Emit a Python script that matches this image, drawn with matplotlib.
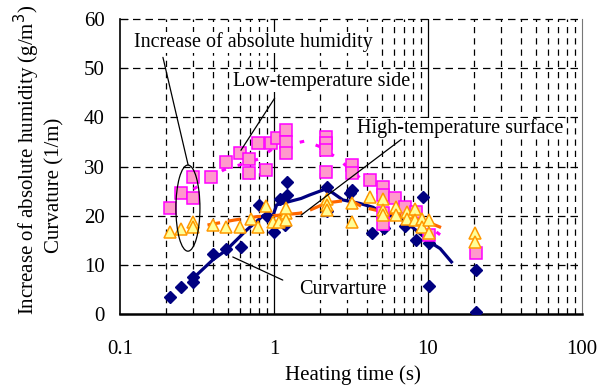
import matplotlib.pyplot as plt
from matplotlib.patches import Ellipse

# curvature (navy diamonds)
curv_x = [0.21, 0.25, 0.30, 0.30, 0.40, 0.49, 0.61, 0.80, 0.90, 1.0, 1.18, 1.10, 1.21, 1.22,
          2.2, 2.2, 3.2, 3.1, 4.3, 5.1, 5.2, 7.1, 8.4, 9.3, 10.1, 10.1, 20.5, 20.5]
curv_y = [3.5, 5.5, 7.5, 6.6, 12.3, 13.3, 13.7, 22.1, 20.0, 16.6, 18.1, 23.3, 26.9, 24.2,
          25.9, 21.0, 25.2, 24.6, 16.5, 17.7, 17.4, 17.9, 15.0, 23.8, 14.4, 5.7, 8.9, 0.5]

# low-temperature side (pink squares)
low_x = [0.21, 0.25, 0.30, 0.30, 0.39, 0.49, 0.60, 0.69, 0.69, 0.79, 0.89, 0.96, 1.05,
         1.19, 1.19, 1.19, 2.18, 2.18, 2.18, 2.18, 3.2, 3.2, 4.2, 5.1, 5.1, 6.1, 5.1,
         5.1, 7.1, 8.4, 10.2, 20.5]
low_y = [21.5, 24.7, 23.6, 27.8, 27.8, 31.0, 32.7, 31.6, 28.6, 34.7, 29.2, 34.7, 35.7,
         37.4, 35.0, 32.8, 36.1, 34.7, 33.3, 28.8, 30.3, 28.6, 27.2, 25.9, 24.2, 23.5, 20.5,
         18.4, 21.8, 20.8, 16.1, 12.5]

# high-temperature surface (yellow triangles)
high_x = [0.21, 0.25, 0.30, 0.30, 0.40, 0.49, 0.60, 0.71, 0.79, 0.89, 0.99, 1.07, 1.19,
          1.19, 1.19, 2.2, 2.2, 2.2, 3.2, 3.2, 4.2, 5.1, 5.1, 5.1, 6.2, 6.2, 7.3, 7.3,
          8.2, 8.2, 9.1, 9.1, 10.1, 10.1, 20.1, 20.1]
high_y = [16.7, 17.2, 18.8, 17.6, 18.1, 17.7, 17.7, 19.4, 17.6, 22.0, 18.8, 18.8, 20.5,
          19.2, 21.5, 23.3, 22.2, 21.1, 18.8, 22.6, 23.7, 23.3, 21.1, 20.1, 21.8, 20.1, 20.8, 19.4,
          21.3, 19.1, 19.4, 17.6, 19.1, 16.4, 16.4, 14.7]

# trend lines
curv_line_x = [0.29, 0.40, 0.49, 0.66, 0.85, 0.98, 1.04, 1.5, 1.7, 2.2, 2.8, 3.6, 4.4,
               5.1, 6.9, 8.4, 10.2, 12, 14.2]
curv_line_y = [6.9, 11, 13, 17, 20, 19.8, 22.2, 23.5, 24.2, 25.5, 23.2, 22.5, 21.7,
               20.5, 19.1, 17, 14.7, 13.3, 10.6]
low_line_x = [0.3, 0.47, 0.79, 0.99, 1.6, 2.0, 2.6, 3.8, 4.8, 6.6, 9, 12.5]
low_line_y = [25.4, 29.3, 31.5, 33.7, 35.2, 34, 31.6, 27.1, 26.6, 22.5, 19, 15.7]
high_line_x = [0.37, 0.55, 0.77, 1.0, 1.47, 1.7, 2.2, 3.1, 3.8, 5.1, 7.3, 9.8, 12.8]
high_line_y = [18.1, 19.1, 19.8, 20.0, 20.5, 21.1, 22.6, 23.2, 21.7, 20.8, 19.8, 18.8, 17.3]

plt.rcParams['font.family'] = 'Liberation Serif'
plt.rcParams['font.size'] = 15

fig = plt.figure(figsize=(6, 3.85), dpi=100)
ax = fig.add_axes([0.2, 0.1844, 0.77, 0.7662])

ax.set_xscale('log')
ax.set_xlim(0.1, 100)
ax.set_ylim(0, 60)

minor = [m * 10.0 ** e for e in (-1, 0, 1) for m in range(2, 10)]
ax.set_xticks([0.1, 1, 10, 100])
ax.set_xticklabels(['0.1', '1', '10', '100'])
ax.set_xticks(minor, minor=True)
ax.set_xticklabels([], minor=True)
ax.set_yticks(range(0, 61, 10))

dash = (0, (5, 4))
for x in minor:
    ax.axvline(x, color='black', lw=0.9, ls=dash, zorder=1)
for x in [1, 10]:
    ax.axvline(x, color='black', lw=0.9, zorder=1)
for y in range(10, 61, 10):
    ax.axhline(y, color='black', lw=0.9, ls=(0, (6, 4)), zorder=1, clip_on=False)

ax.tick_params(axis='x', which='both', length=0, pad=19)
ax.tick_params(axis='y', direction='in', length=6, pad=11)
ax.spines['top'].set_visible(False)
ax.spines['right'].set_color('#777777')
ax.spines['left'].set_linewidth(1.2)
ax.spines['bottom'].set_linewidth(1.8)

ax.plot(curv_line_x, curv_line_y, color='#000080', lw=2.3, zorder=2)
ax.plot(high_line_x, high_line_y, color='#FF6600', lw=2.3, ls=(0, (4, 2.5)), zorder=2)
ax.plot(low_line_x, low_line_y, color='#FF00FF', lw=2.2, ls=(0, (1.5, 4)), zorder=2)

ax.plot(curv_x, curv_y, 'D', color='#000080', ms=5.8, ls='none', zorder=3)
ax.plot(low_x, low_y, 's', mfc='#FF99CC', mec='#FF00FF', mew=1.1, ms=8, ls='none', zorder=4)
ax.plot(high_x, high_y, '^', mfc='#FFFF99', mec='#FF9900', mew=1.1, ms=8.5, ls='none', zorder=5)

ax.add_patch(Ellipse((0.147, 0.359), 0.052, 0.292, transform=ax.transAxes,
                     fill=False, edgecolor='black', lw=0.9, zorder=6))

line = dict(arrowstyle='-', color='black', lw=0.9, shrinkA=0, shrinkB=0)
ax.annotate('', xy=(0.277, 30.3), xytext=(0.19, 52.2), arrowprops=line, zorder=6)
ax.annotate('', xy=(0.61, 33.3), xytext=(1.01, 43.9), arrowprops=line, zorder=6)
ax.annotate('', xy=(1.50, 20.1), xytext=(7.6, 36.8), arrowprops=line, zorder=6)
ax.annotate('', xy=(0.54, 11.6), xytext=(1.14, 6.9), arrowprops=line, zorder=6)

box = dict(facecolor='white', edgecolor='none', pad=0.5)
ax.text(0.73, 55.3, 'Increase of absolute humidity', ha='center', va='center',
        fontsize=14.5, zorder=7, bbox=box)
ax.text(2.05, 47.2, 'Low-temperature side', ha='center', va='center',
        fontsize=14.5, zorder=7, bbox=box)
ax.text(16.1, 37.8, 'High-temperature surface', ha='center', va='center',
        fontsize=14.5, zorder=7, bbox=box)
ax.text(2.8, 4.9, 'Curvarture', ha='center', va='center', fontsize=14.5, zorder=7, bbox=box)

fig.text(0.5875, 1 - 375 / 385, 'Heating time (s)', ha='center', va='center')
fig.text(27 / 600, 1 - 160 / 385, 'Increase of absolute humidity (g/m$^3$)',
         rotation=90, ha='center', va='center')
fig.text(55 / 600, 1 - 185 / 385, 'Curvature (1/m)', rotation=90, ha='center', va='center')

fig.savefig('out.png', dpi=100)
